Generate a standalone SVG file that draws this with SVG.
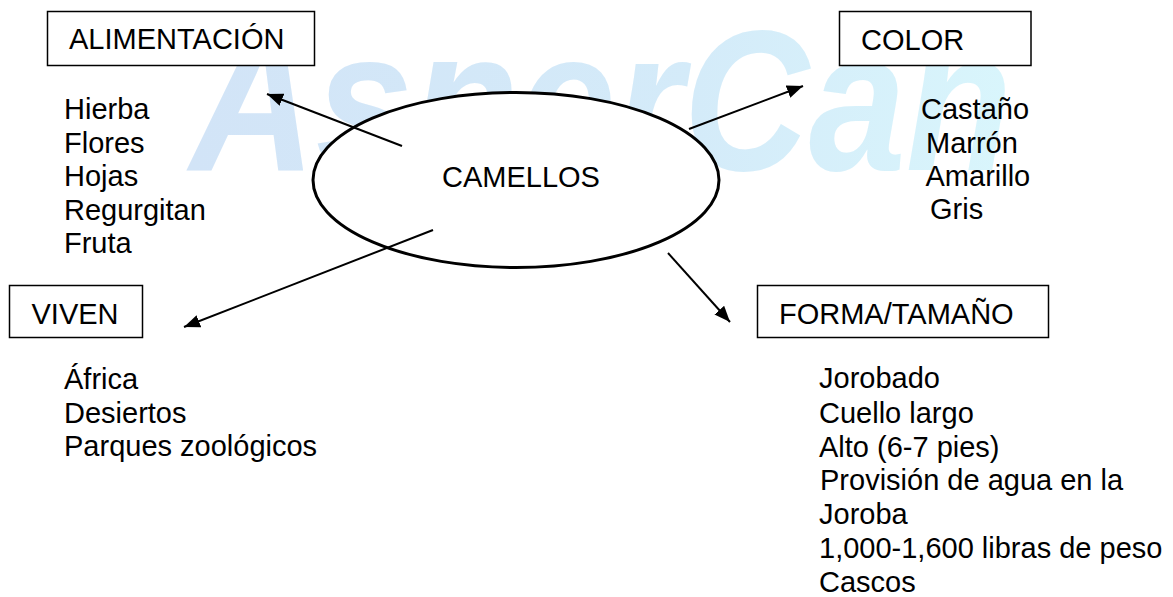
<svg xmlns="http://www.w3.org/2000/svg" width="1173" height="597" viewBox="0 0 1173 597">
  <style>
    .t { font-family: "Liberation Sans", Arial, sans-serif; font-size: 29px; fill: #000; }
    .box { fill: #fff; stroke: #000; stroke-width: 1.5; }
    .conn { stroke: #000; stroke-width: 2; fill: none; marker-end: url(#arrow); }
    .wm { font-family: "Liberation Sans", Arial, sans-serif; font-size: 200px; font-weight: bold; font-style: italic; fill: url(#wmgrad); }
  </style>
  <defs>
    <marker id="arrow" markerUnits="userSpaceOnUse" markerWidth="18" markerHeight="14" refX="16" refY="6.5" orient="auto">
      <path d="M0,0 L16,6.5 L0,13 z" fill="#000"/>
    </marker>
    <linearGradient id="wmgrad" gradientUnits="userSpaceOnUse" x1="190" y1="0" x2="1030" y2="0">
      <stop offset="0" stop-color="#d2e4f7"/>
      <stop offset="0.6" stop-color="#d4ebf9"/>
      <stop offset="1" stop-color="#d9f6fc"/>
    </linearGradient>
    <clipPath id="wmclip">
      <path d="M185,62 L660,62 L660,0 L1060,0 L1060,200 L185,200 z"/>
    </clipPath>
  </defs>

  <rect width="1173" height="597" fill="#fff"/>

  <g id="watermark" clip-path="url(#wmclip)">
    <text class="wm" x="190" y="170" textLength="822" lengthAdjust="spacingAndGlyphs">AsherCan</text>
  </g>

  <g id="camellos">
    <ellipse cx="516" cy="180" rx="203" ry="87.5" fill="#fff" stroke="#000" stroke-width="3"/>
    <text class="t" x="442" y="187">CAMELLOS</text>
  </g>

  <g id="connectors">
    <line class="conn" x1="402" y1="146" x2="267" y2="94"/>
    <line class="conn" x1="689" y1="129" x2="803" y2="86"/>
    <line class="conn" x1="433" y1="230" x2="184" y2="327"/>
    <line class="conn" x1="668" y1="253" x2="730" y2="322"/>
  </g>

  <g id="alimentacion">
    <rect class="box" x="47.5" y="11.5" width="267" height="54"/>
    <text class="t" x="69" y="49">ALIMENTACIÓN</text>
    <text class="t" x="64" y="119">Hierba</text>
    <text class="t" x="64" y="152.5">Flores</text>
    <text class="t" x="64" y="186">Hojas</text>
    <text class="t" x="64" y="219.5">Regurgitan</text>
    <text class="t" x="64" y="252.5">Fruta</text>
  </g>

  <g id="color">
    <rect class="box" x="839.5" y="11.5" width="191.5" height="54"/>
    <text class="t" x="861" y="50">COLOR</text>
    <text class="t" x="921" y="118.5">Castaño</text>
    <text class="t" x="926" y="152.5">Marrón</text>
    <text class="t" x="925.5" y="186">Amarillo</text>
    <text class="t" x="930" y="219">Gris</text>
  </g>

  <g id="viven">
    <rect class="box" x="9.5" y="285.5" width="133" height="52"/>
    <text class="t" x="31.5" y="324">VIVEN</text>
    <text class="t" x="64" y="389">África</text>
    <text class="t" x="64" y="422.5">Desiertos</text>
    <text class="t" x="64" y="455.5">Parques zoológicos</text>
  </g>

  <g id="forma">
    <rect class="box" x="757.5" y="285.5" width="291" height="52"/>
    <text class="t" x="779" y="323.5">FORMA/TAMAÑO</text>
    <text class="t" x="819" y="388">Jorobado</text>
    <text class="t" x="819" y="422.5">Cuello largo</text>
    <text class="t" x="819" y="456.5">Alto (6-7 pies)</text>
    <text class="t" x="820" y="490">Provisión de agua en la</text>
    <text class="t" x="819" y="524">Joroba</text>
    <text class="t" x="819" y="558">1,000-1,600 libras de peso</text>
    <text class="t" x="819" y="591.5">Cascos</text>
  </g>
</svg>
